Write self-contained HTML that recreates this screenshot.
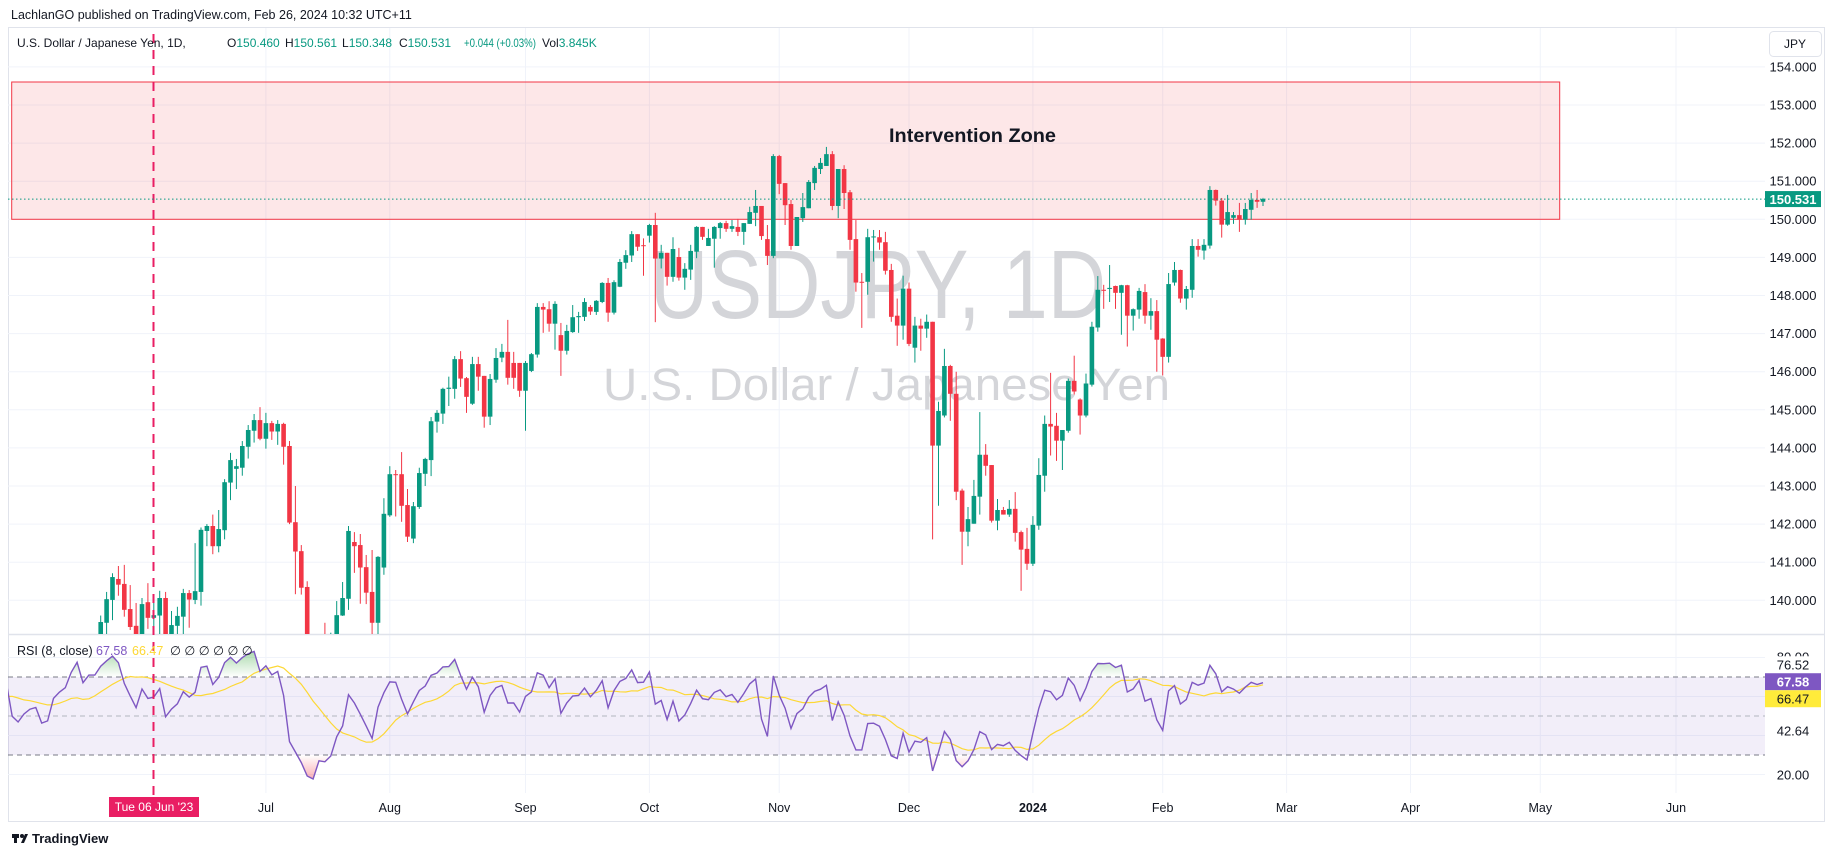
<!DOCTYPE html>
<html><head><meta charset="utf-8"><title>USDJPY 1D</title>
<style>
html,body{margin:0;padding:0;background:#fff;}
body{width:1835px;height:857px;overflow:hidden;font-family:"Liberation Sans",sans-serif;}
svg{display:block;}
text{font-family:"Liberation Sans",sans-serif;}
</style></head>
<body>
<svg id="chart" width="1835" height="857" viewBox="0 0 1835 857" xmlns="http://www.w3.org/2000/svg">
<defs>
<clipPath id="mainClip"><rect x="8" y="27" width="1757" height="607"/></clipPath>
<clipPath id="rsiClip"><rect x="8" y="635" width="1757" height="160"/></clipPath>
<clipPath id="obClip"><rect x="8" y="635" width="1757" height="42"/></clipPath>
<clipPath id="osClip"><rect x="8" y="755" width="1757" height="40"/></clipPath>
<linearGradient id="obGrad" gradientUnits="userSpaceOnUse" x1="0" y1="652" x2="0" y2="677">
<stop offset="0" stop-color="#4caf50" stop-opacity="0.45"/><stop offset="1" stop-color="#4caf50" stop-opacity="0"/></linearGradient>
<linearGradient id="osGrad" gradientUnits="userSpaceOnUse" x1="0" y1="755" x2="0" y2="782">
<stop offset="0" stop-color="#f23645" stop-opacity="0"/><stop offset="1" stop-color="#f23645" stop-opacity="0.45"/></linearGradient>
</defs>
<text x="11" y="19" font-size="12.5" fill="#131722">LachlanGO published on TradingView.com, Feb 26, 2024 10:32 UTC+11</text>
<rect x="8.5" y="27.5" width="1816" height="794" fill="none" stroke="#e0e3eb"/>
<g id="grid"></g>
<rect x="11.7" y="82" width="1548" height="137.3" fill="#f23645" fill-opacity="0.12" stroke="#f23645" stroke-width="1"/>
<text x="650" y="318" font-size="97" fill="#d4d5d9" textLength="456" lengthAdjust="spacingAndGlyphs">USDJPY, 1D</text>
<text x="603" y="400" font-size="45" fill="#d4d5d9" textLength="567" lengthAdjust="spacingAndGlyphs">U.S. Dollar / Japanese Yen</text>
<text x="889" y="142" font-size="19" font-weight="bold" fill="#131722" textLength="167" lengthAdjust="spacingAndGlyphs">Intervention Zone</text>
<g id="candles" clip-path="url(#mainClip)"></g>
<g id="rsi"></g>
<g id="axes"></g>
<line x1="153.5" y1="34" x2="153.5" y2="797" stroke="#e91e63" stroke-width="2" stroke-dasharray="9,7"/>
<rect x="109" y="797" width="90" height="20" fill="#e91e63"/>
<text x="154" y="811" font-size="12" fill="#fff" text-anchor="middle">Tue 06 Jun '23</text>
<g>
<text x="17" y="47" font-size="12" fill="#131722">U.S. Dollar / Japanese Yen, 1D,</text>
<text x="227" y="47" font-size="12" fill="#089981"><tspan fill="#131722">O</tspan>150.460</text>
<text x="285" y="47" font-size="12" fill="#089981"><tspan fill="#131722">H</tspan>150.561</text>
<text x="342" y="47" font-size="12" fill="#089981"><tspan fill="#131722">L</tspan>150.348</text>
<text x="399" y="47" font-size="12" fill="#089981"><tspan fill="#131722">C</tspan>150.531</text>
<text x="464" y="47" font-size="12" fill="#089981" textLength="72" lengthAdjust="spacingAndGlyphs">+0.044 (+0.03%)</text>
<text x="542" y="47" font-size="12" fill="#089981"><tspan fill="#131722">Vol</tspan>3.845K</text>
</g>
<rect x="1769.5" y="31.5" width="52" height="25" rx="4" fill="#fff" stroke="#e0e3eb"/>
<text x="1795" y="48" font-size="12" fill="#131722" text-anchor="middle">JPY</text>
<g>
<text x="17" y="655" font-size="12.5" fill="#131722">RSI (8, close)</text>
<text x="96" y="655" font-size="12.5" fill="#7e57c2">67.58</text>
<text x="132" y="655" font-size="12.5" fill="#fdd835">66.47</text>
<text x="170" y="655" font-size="12.5" fill="#131722">∅ ∅ ∅ ∅ ∅ ∅</text>
</g>
<g>
<rect x="12" y="834" width="7" height="4" fill="#131722"/><rect x="14" y="834" width="3" height="9" fill="#131722"/>
<circle cx="22" cy="836" r="2" fill="#131722"/><polygon points="21,843 25,834 28,834 24,843" fill="#131722"/>
<text x="32" y="843" font-size="13" font-weight="bold" fill="#131722">TradingView</text>
</g>
</svg>
<script>
const firstK = -151;
const opens = [132.7,132.8,131.7,131.3,131.8,132.2,133.6,133.7,133.1,132.6,133.8,134.5,134.1,134.7,134.2,134.1,134.3,133.7,133.6,133.9,136.3,137.5,136.6,134.7,134.3,134.8,135.1,135.2,134.4,134.5,135.7,136.1,136.4,137.6,138.7,137.9,138.6,
139.0,139.41,140.01,140.56,140.43,139.77,139.33,138.9,139.95,139.54,139.6,140.06,139.05,139.33,139.57,140.19,140.01,140.22,141.82,141.95,141.42,141.84,143.09,143.45,143.48,144.03,144.45,144.73,144.24,144.65,144.43,144.63,144.05,142.05,141.29,140.35,138.6,138.1,138.8,138.7,139.0,139.6,140.04,141.53,141.45,140.87,140.22,139.41,140.86,142.23,143.31,143.31,142.5,141.62,142.45,143.32,143.68,144.69,144.9,145.55,145.55,146.33,145.83,145.16,146.2,145.89,144.82,145.79,146.37,146.52,146.23,146.23,145.5,146.02,146.45,147.7,147.64,147.26,146.96,146.55,147.04,147.43,147.44,147.7,147.57,147.83,148.33,147.55,148.23,148.86,149.05,149.61,149.32,149.57,149.85,148.97,149.12,148.49,149.01,148.47,148.68,149.15,149.8,149.3,149.49,149.77,149.9,149.75,149.8,149.67,149.88,150.17,150.35,149.48,
149.04,151.66,150.95,150.4,149.3,150.03,150.29,150.95,151.32,151.4,151.71,150.35,151.32,150.71,149.48,148.36,148.36,149.53,149.53,149.4,148.67,147.47,147.21,148.18,146.63,147.21,147.13,147.31,144.06,144.85,146.15,145.42,142.88,141.8,142.01,142.72,143.82,143.55,142.09,142.37,142.25,142.4,141.79,141.35,140.96,141.96,143.27,144.63,144.58,144.19,144.45,145.76,145.27,144.85,145.66,147.16,148.15,148.17,148.25,148.07,148.27,147.47,147.63,148.09,147.47,147.59,146.87,146.39,148.34,148.67,147.92,148.15,149.3,149.18,149.31,150.77,150.49,149.86,150.04,150.11,149.99,150.25,150.51,150.46];
const highs = [133.2,133.0,131.9,132.0,132.5,133.9,133.9,133.9,133.3,134.0,134.7,134.7,134.9,134.9,134.4,134.5,134.4,133.9,134.2,136.6,137.8,137.7,136.8,135.0,135.1,135.4,135.5,135.4,134.8,135.9,136.4,136.6,137.9,138.9,138.9,138.9,139.0,
139.6,140.22,140.71,140.9,140.93,140.4,139.93,140.06,140.45,140.0,140.25,140.22,139.72,139.83,140.3,140.27,141.5,141.91,142.0,142.25,142.37,143.18,143.87,143.71,144.18,144.6,144.89,145.07,144.92,144.71,144.73,144.66,144.18,143.0,141.45,140.5,139.0,139.1,139.41,139.15,139.98,140.48,141.95,141.79,141.74,141.19,141.32,141.16,142.68,143.52,143.42,143.89,142.92,142.58,143.48,143.74,144.81,144.99,145.58,145.87,146.41,146.54,145.86,146.39,146.39,145.89,145.94,146.62,146.73,147.36,146.52,146.23,146.28,146.49,147.8,147.8,147.85,147.85,147.28,147.23,147.75,147.57,147.93,147.75,147.88,148.35,148.46,148.4,148.96,149.19,149.69,149.61,149.5,149.88,150.17,149.33,149.12,149.53,149.25,148.85,149.33,149.82,149.8,149.75,149.82,149.93,149.96,149.98,150.01,149.9,150.33,150.77,150.35,149.85,
151.71,151.69,150.95,150.51,150.06,150.69,151.03,151.4,151.61,151.9,151.79,151.32,151.42,150.77,149.98,148.59,149.75,149.72,149.72,149.67,148.83,147.92,148.52,148.34,147.44,147.39,147.5,147.31,145.21,146.6,146.18,146.0,142.93,142.45,143.16,144.94,144.1,143.55,142.66,142.45,142.63,142.84,141.83,141.9,142.21,143.73,144.85,145.97,144.92,144.47,145.82,146.42,145.3,145.95,147.31,148.51,148.28,148.8,148.26,148.28,148.28,147.66,148.2,148.3,147.93,147.88,146.88,148.59,148.88,148.68,148.25,149.48,149.48,149.48,150.87,150.78,150.56,150.64,150.19,150.43,150.43,150.69,150.77,150.561];
const lows = [132.4,131.5,131.1,131.2,131.6,132.0,133.4,132.9,132.4,132.4,133.6,133.9,133.9,134.0,133.9,133.9,133.5,133.4,133.4,133.7,136.1,136.4,134.5,134.1,134.1,134.7,134.9,134.2,134.2,134.3,135.5,135.9,136.2,137.4,137.7,137.7,138.3,
138.8,139.1,139.48,140.12,139.57,139.22,138.7,138.75,139.25,139.1,139.1,138.8,138.9,139.1,139.1,139.28,139.9,139.86,141.42,141.21,141.26,141.6,142.63,142.92,143.27,143.72,144.14,144.2,143.98,144.21,144.08,143.56,142.0,140.16,140.15,138.4,137.8,137.3,138.4,138.5,138.8,139.59,139.75,140.72,139.91,139.9,138.1,138.6,140.67,142.19,142.2,142.06,141.53,141.5,142.4,143.0,143.26,144.4,144.63,145.1,145.29,145.6,144.92,145.13,145.5,144.53,144.6,145.71,146.25,145.66,145.55,145.34,144.45,145.99,146.37,147.02,147.05,146.58,145.89,146.45,147.02,147.02,147.33,147.49,147.49,147.8,147.31,147.5,148.22,148.7,148.88,149.17,148.52,149.39,147.3,148.71,148.26,148.36,148.39,148.15,148.41,148.98,149.46,149.3,148.73,149.49,149.67,149.67,149.56,149.33,149.88,149.82,149.46,148.8,
148.98,150.66,149.85,149.2,149.3,149.93,150.29,150.77,151.19,151.4,150.24,150.03,150.27,149.2,148.1,147.15,148.02,148.89,149.2,148.55,147.31,146.68,146.84,146.67,146.24,146.55,146.89,141.6,142.48,144.8,144.71,142.63,140.93,141.42,142.01,142.25,143.27,142.04,141.84,142.25,142.19,141.54,140.25,140.8,140.9,141.85,142.85,143.8,143.66,143.42,144.4,145.4,144.35,144.8,145.61,147.05,147.65,147.83,147.65,146.97,146.66,147.08,147.39,147.26,147.1,146.0,145.9,146.24,148.26,147.81,147.63,147.94,149.02,148.94,149.23,150.36,149.52,149.83,149.88,149.67,149.86,149.99,150.3,150.348];
const closes = [132.8,131.7,131.3,131.8,132.2,133.6,133.7,133.1,132.6,133.8,134.5,134.1,134.7,134.2,134.1,134.3,133.7,133.6,133.9,136.3,137.5,136.6,134.7,134.3,134.8,135.1,135.2,134.4,134.5,135.7,136.1,136.4,137.6,138.7,137.9,138.6,138.6,
139.43,140.03,140.61,140.41,139.75,139.3,138.85,139.9,139.54,139.61,140.06,139.0,139.35,139.59,140.19,140.02,140.24,141.85,141.95,141.42,141.87,143.1,143.68,143.52,144.05,144.47,144.73,144.24,144.65,144.43,144.63,144.03,142.04,141.28,140.33,138.6,138.1,138.8,138.7,138.9,139.61,140.06,141.82,141.42,140.86,140.2,139.41,141.14,142.27,143.31,143.29,142.48,141.67,142.47,143.34,143.71,144.7,144.92,145.55,145.58,146.33,145.82,145.34,146.2,145.87,144.82,145.81,146.36,146.52,145.84,145.84,145.5,146.23,146.46,147.7,147.63,147.26,147.78,146.55,147.07,147.43,147.46,147.83,147.58,147.86,148.33,147.55,148.35,148.88,149.06,149.61,149.28,149.3,149.85,148.97,149.12,148.49,149.22,148.47,148.7,149.17,149.8,149.54,149.51,149.8,149.9,149.75,149.82,149.67,149.9,150.19,150.35,149.56,149.04,
151.66,150.93,150.37,149.3,150.06,150.32,150.98,151.35,151.48,151.71,150.35,151.32,150.69,149.46,148.34,148.34,149.53,149.55,149.39,148.65,147.44,147.21,148.18,146.73,147.21,147.13,147.31,144.06,144.97,146.15,145.42,142.85,141.8,142.13,142.74,143.82,143.53,142.09,142.37,142.25,142.4,141.77,141.33,140.96,141.98,143.29,144.63,144.56,144.19,144.47,145.76,145.48,144.85,145.69,147.18,148.15,148.14,148.2,148.07,148.27,147.47,147.64,148.12,147.47,147.59,146.84,146.39,148.3,148.67,147.92,148.17,149.3,149.2,149.33,150.77,150.49,149.86,150.19,150.11,149.99,150.27,150.51,150.46,150.531];
const monthLabels = ["Jul","Aug","Sep","Oct","Nov","Dec","2024","Feb","Mar","Apr","May","Jun"];
const monthBarIndex = [-86,-65,-42,-21,1,23,44,66,87,108,130,153];
const priceTicks = [140,141,142,143,144,145,146,147,148,149,150,151,152,153,154];
const rsiGridLevels = [80,60,40,20];
const rsiBandLevels = [70,50,30];
const rsiAxisLabels = [76.52,42.64,20.00];
const rsiLastValues = [67.58,66.47];
const lastPrice = 150.531;

const NS = "http://www.w3.org/2000/svg";
function xOf(k){ return 773.3 + k*5.9; }
function yP(p){ return 219.3 + (150 - p)*38.1; }
function yR(v){ return 716 - (v - 50)*1.95; }
function mk(tag, attrs, parent){
  const e = document.createElementNS(NS, tag);
  for (const a in attrs) e.setAttribute(a, attrs[a]);
  parent.appendChild(e); return e;
}
const grid = document.getElementById('grid');
const axes = document.getElementById('axes');
const cg = document.getElementById('candles');
const rg = document.getElementById('rsi');

priceTicks.forEach(p=>{
  const l = mk('line',{x1:8,x2:1765,y1:yP(p),y2:yP(p),stroke:'#f0f3fa','stroke-width':1},grid);
  
  
  const t = mk('text',{x:1793,y:yP(p)+4.5,'font-size':13,fill:'#131722','text-anchor':'middle'},axes);
  t.textContent = p.toFixed(3);
  
  
});
monthBarIndex.forEach((k,i)=>{
  const x = xOf(k);
  const l = mk('line',{x1:x,x2:x,y1:28,y2:793,stroke:'#f0f3fa','stroke-width':1},grid);
  
  
  const t = mk('text',{x:x,y:812,'font-size':12.5,fill:'#131722','text-anchor':'middle','font-weight':monthLabels[i]==='2024'?'bold':'normal'},axes);
  t.textContent = monthLabels[i];
  
  
});
const sep = mk('line',{x1:8,x2:1825,y1:634.5,y2:634.5,stroke:'#e0e3eb','stroke-width':1.5},grid);



for (let i=0;i<closes.length;i++){
  const k = firstK + i, x = xOf(k);
  if (x < 4) continue;
  const up = closes[i] >= opens[i];
  const col = up ? '#089981' : '#f23645';
  const w = mk('line',{x1:x,x2:x,y1:yP(highs[i]),y2:yP(lows[i]),stroke:col,'stroke-width':1},cg);
  
  
  const top = yP(Math.max(opens[i],closes[i])), bot = yP(Math.min(opens[i],closes[i]));
  const b = mk('rect',{x:x-2.3,y:top,width:4.6,height:Math.max(1,bot-top),fill:col},cg);
  
  
}
const pl = mk('line',{x1:8,x2:1765,y1:yP(lastPrice),y2:yP(lastPrice),stroke:'#089981','stroke-width':1,'stroke-dasharray':'1.5,2.5'},grid.parentNode);


const pb = mk('rect',{x:1765,y:yP(lastPrice)-8,width:56,height:16,fill:'#089981'},axes);


const pt = mk('text',{x:1793,y:yP(lastPrice)+5,'font-size':13,'font-weight':'bold',fill:'#fff','text-anchor':'middle'},axes);
pt.textContent = lastPrice.toFixed(3);



const rsiLen = 8, maLen = 14;
const rsi = new Array(closes.length).fill(null);
let au = 0, ad = 0;
for (let i=1;i<closes.length;i++){
  const ch = closes[i]-closes[i-1], u = Math.max(ch,0), d = Math.max(-ch,0);
  if (i <= rsiLen){ au += u; ad += d; if (i === rsiLen){ au/=rsiLen; ad/=rsiLen; rsi[i] = ad===0?100:100-100/(1+au/ad);} }
  else { au = (au*(rsiLen-1)+u)/rsiLen; ad = (ad*(rsiLen-1)+d)/rsiLen; rsi[i] = ad===0?100:100-100/(1+au/ad); }
}
const ma = new Array(closes.length).fill(null);
for (let i=0;i<closes.length;i++){
  let s=0,n=0; for (let j=i-maLen+1;j<=i;j++){ if (j>=0 && rsi[j]!==null){s+=rsi[j];n++;} }
  if (n===maLen) ma[i]=s/maLen;
}
rsiGridLevels.forEach(v=>{
  const l = mk('line',{x1:8,x2:1765,y1:yR(v),y2:yR(v),stroke:'#f0f3fa','stroke-width':1},rg);
  
  
});
const band = mk('rect',{x:8,y:yR(70),width:1757,height:yR(30)-yR(70),fill:'#7e57c2','fill-opacity':0.1},rg);


rsiBandLevels.forEach(v=>{
  const l = mk('line',{x1:8,x2:1765,y1:yR(v),y2:yR(v),stroke:v===50?'#b2b5be':'#787b86','stroke-width':1,'stroke-dasharray':'5,4'},rg);
  
  
});
let rp='', mp='', first=null, last=null;
for (let i=0;i<closes.length;i++){
  const x = xOf(firstK+i);
  if (rsi[i]!==null && x>=0){ rp += (rp?'L':'M')+x.toFixed(1)+','+yR(rsi[i]).toFixed(1); if(first===null) first=x; last=x; }
  if (ma[i]!==null && x>=0){ mp += (mp?'L':'M')+x.toFixed(1)+','+yR(ma[i]).toFixed(1); }
}
const cgR = mk('g',{'clip-path':'url(#rsiClip)'},rg);


const ob = mk('path',{d:rp+'L'+last+','+yR(70)+'L'+first+','+yR(70)+'Z',fill:'url(#obGrad)','clip-path':'url(#obClip)'},cgR);


const os = mk('path',{d:rp+'L'+last+','+yR(30)+'L'+first+','+yR(30)+'Z',fill:'url(#osGrad)','clip-path':'url(#osClip)'},cgR);


const mline = mk('path',{d:mp,fill:'none',stroke:'#fdd835','stroke-width':1.2},cgR);


const rline = mk('path',{d:rp,fill:'none',stroke:'#7e57c2','stroke-width':1.4},cgR);


const t80 = mk('text',{x:1793,y:yR(80)+4,'font-size':13,fill:'#131722','text-anchor':'middle'},axes);
t80.textContent='80.00';


rsiAxisLabels.forEach(v=>{
  const bg = mk('rect',{x:1766,y:yR(v)-8,width:56,height:15,fill:'#fff'},axes);
  
  
  const t = mk('text',{x:1793,y:yR(v)+5,'font-size':13,fill:'#131722','text-anchor':'middle'},axes);
  t.textContent = v.toFixed(2);
  
  
});
const rCols = ['#7e57c2','#ffeb3b'], tCols = ['#fff','#131722'];
const badgeTop = yR(rsiLastValues[0]);
rsiLastValues.forEach((v,i)=>{
  const yc = badgeTop + i*17;
  const b = mk('rect',{x:1765,y:yc-8.5,width:56,height:17,fill:rCols[i]},axes);
  
  
  const t = mk('text',{x:1793,y:yc+5,'font-size':13,'font-weight':i===0?'bold':'normal',fill:tCols[i],'text-anchor':'middle'},axes);
  t.textContent = v.toFixed(2);
  
  
});
</script>
</body></html>
